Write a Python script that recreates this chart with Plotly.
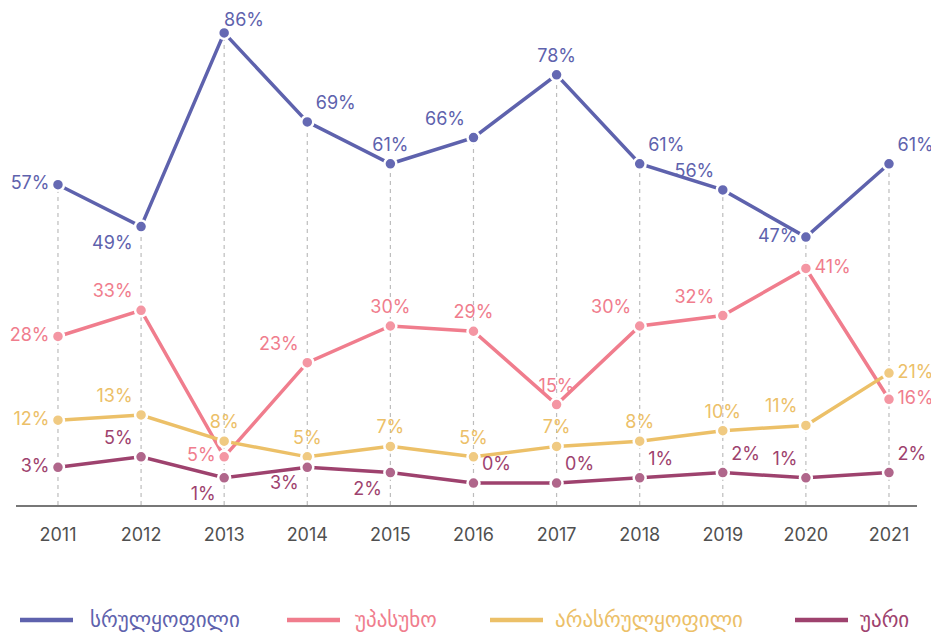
import plotly.graph_objects as go

years = [2011, 2012, 2013, 2014, 2015, 2016, 2017, 2018, 2019, 2020, 2021]
names = ["სრულყოფილი", "უპასუხო", "არასრულყოფილი", "უარი"]
full = [57, 49, 86, 69, 61, 66, 78, 61, 56, 47, 61]
noanswer = [28, 33, 5, 23, 30, 29, 15, 30, 32, 41, 16]
partial = [12, 13, 8, 5, 7, 5, 7, 8, 10, 11, 21]
refused = [3, 5, 1, 3, 2, 0, 0, 1, 2, 1, 2]

series = [full, noanswer, partial, refused]
line_colors = ["#5e62ad", "#f07d8d", "#ecc068", "#9e426e"]
marker_colors = ["#6569b3", "#f496a3", "#f0ca82", "#b0668b"]

# label placement; None = drawn as a separate annotation (near the top edge)
pos = [
    ["middle left", "bottom left", None, "top right", "top center", "top left",
     "top center", "top right", "top left", "middle left", "top right"],
    ["middle left", "top left", "middle left", "top left", "top center", "top center",
     "top center", "top left", "top left", "middle right", "middle right"],
    ["middle left", "top left", "top center", "top center", "top center", "top center",
     "top center", "top center", "top center", "top left", "middle right"],
    ["middle left", "top left", "bottom left", "bottom left", "bottom left", "top right",
     "top right", "top right", "top right", "top left", "top right"],
]

YMIN, YMAX = -4.2, 90
FS = 18

fig = go.Figure()

# dashed drop lines from the highest value down to the axis
dx, dy = [], []
for i, yr in enumerate(years):
    dx += [yr, yr, None]
    dy += [YMIN, max(s[i] for s in series), None]
fig.add_trace(go.Scatter(x=dx, y=dy, mode="lines", showlegend=False, hoverinfo="skip",
                         line=dict(color="#bdbdbd", width=1.2, dash="4px,4px")))

for s, nm, lc, mc, tp in zip(series, names, line_colors, marker_colors, pos):
    texts = [f"{v}%" if p is not None else "" for v, p in zip(s, tp)]
    tps = [p if p is not None else "top center" for p in tp]
    fig.add_trace(go.Scatter(
        x=years, y=s, name=nm, mode="lines+markers+text",
        text=texts, textposition=tps,
        textfont=dict(color=lc, size=FS, family="Inter"),
        line=dict(color=lc, width=3.5),
        marker=dict(color=mc, size=12, line=dict(color="white", width=2.5)),
        showlegend=False, cliponaxis=False,
    ))
    for yr, v, p in zip(years, s, tp):
        if p is None:
            fig.add_annotation(x=yr, y=v, text=f"{v}%", showarrow=False,
                               xshift=20, yshift=13, borderpad=0,
                               font=dict(color=lc, size=FS, family="Inter"))

fig.update_xaxes(range=[2010.495, 2021.337], tickmode="array", tickvals=years,
                 ticktext=[str(y) for y in years], showgrid=False, zeroline=False,
                 showline=True, linecolor="#777777", linewidth=1.5,
                 tickfont=dict(size=FS, color="#505050", family="Inter"),
                 ticks="", ticklabelstandoff=13)
fig.update_yaxes(range=[YMIN, YMAX], visible=False, showgrid=False, zeroline=False)

# page body has an 8px margin; work in figure pixel coordinates
OFF = 8
W_L, W_R, H_T, H_B = 16 - OFF, 917 - OFF, 12 - OFF, 505 - OFF
def px_x(p):
    return (p - OFF - W_L) / (W_R - W_L)
def px_y(p):
    return (H_B - (p - OFF)) / (H_B - H_T)

leg = [(20, 73, 88), (287, 340, 353), (490, 543, 553), (795, 848, 858)]
ly = 620
for (x0, x1, tx), nm, lc in zip(leg, names, line_colors):
    fig.add_shape(type="line", xref="paper", yref="paper",
                  x0=px_x(x0), x1=px_x(x1), y0=px_y(ly), y1=px_y(ly),
                  line=dict(color=lc, width=4.5))
    fig.add_annotation(xref="paper", yref="paper", x=px_x(tx), y=px_y(ly),
                       xanchor="left", yanchor="middle", text=nm, showarrow=False,
                       font=dict(color=lc, size=21, family="DejaVu Sans"))

fig.update_layout(width=939, height=633,
                  margin=dict(l=W_L, r=939 - W_R, t=H_T, b=633 - H_B),
                  plot_bgcolor="white", paper_bgcolor="white", showlegend=False,
                  font=dict(family="Inter"))

fig.write_html("out.html")
